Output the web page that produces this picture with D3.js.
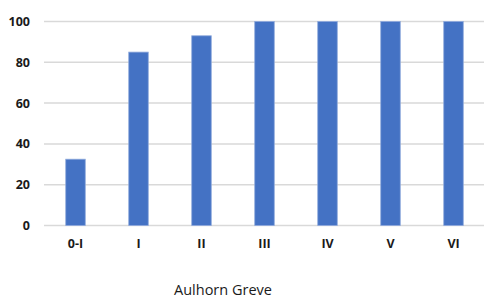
<!DOCTYPE html>
<html>
<head>
<meta charset="utf-8">
<script src="https://cdn.jsdelivr.net/npm/d3@7"></script>
<style>
  html, body { margin: 0; padding: 0; background: #fff; }
  svg { display: block; font-family: "Open Sans", "Liberation Sans", sans-serif; }
</style>
</head>
<body>
<svg id="chart" width="484" height="298"></svg>
<script>
// data
const grades = ['0-I', 'I', 'II', 'III', 'IV', 'V', 'VI'];
const percent = [32.5, 85, 93, 100, 100, 100, 100];
const yTicks = [0, 20, 40, 60, 80, 100];
const xTitle = 'Aulhorn Greve';

const svg = d3.select('#chart');

const x = d3.scaleBand().domain(grades).range([44, 485]).paddingInner(0.69).paddingOuter(0.345);
const y = d3.scaleLinear().domain([0, 100]).range([225.5, 21.5]);

// gridlines
svg.append('g').selectAll('line').data(yTicks).join('line')
  .attr('x1', 44).attr('x2', 484)
  .attr('y1', d => y(d)).attr('y2', d => y(d))
  .attr('stroke', '#d9d9d9').attr('stroke-width', 1.5);

// y labels
const yAxis = svg.append('g').attr('transform', 'translate(38,0)')
  .call(d3.axisLeft(y).tickValues(yTicks).tickSize(0).tickPadding(8));
yAxis.select('.domain').remove();
yAxis.selectAll('text').attr('font-size', 12.5).attr('font-weight', 'bold')
  .attr('fill', '#1a1a1a').attr('font-family', '"Open Sans", sans-serif');

// bars
svg.append('g').selectAll('rect').data(grades).join('rect')
  .attr('x', d => x(d))
  .attr('width', x.bandwidth())
  .attr('y', (d, i) => y(percent[i]))
  .attr('height', (d, i) => y(0) - y(percent[i]))
  .attr('fill', '#4472c4')
  .attr('stroke', '#8faadc').attr('stroke-width', 0.8);

// x labels
const xAxis = svg.append('g').attr('transform', `translate(0,${y(0)})`)
  .call(d3.axisBottom(x).tickSize(0).tickPadding(14));
xAxis.select('.domain').remove();
xAxis.selectAll('text').attr('font-size', 12.5).attr('font-weight', 'bold')
  .attr('fill', '#1a1a1a').attr('font-family', '"Open Sans", sans-serif');

// axis title
svg.append('text')
  .attr('x', 223).attr('y', 295)
  .attr('text-anchor', 'middle')
  .attr('font-size', 14.5).attr('fill', '#1a1a1a')
  .text(xTitle);
</script>
</body>
</html>
